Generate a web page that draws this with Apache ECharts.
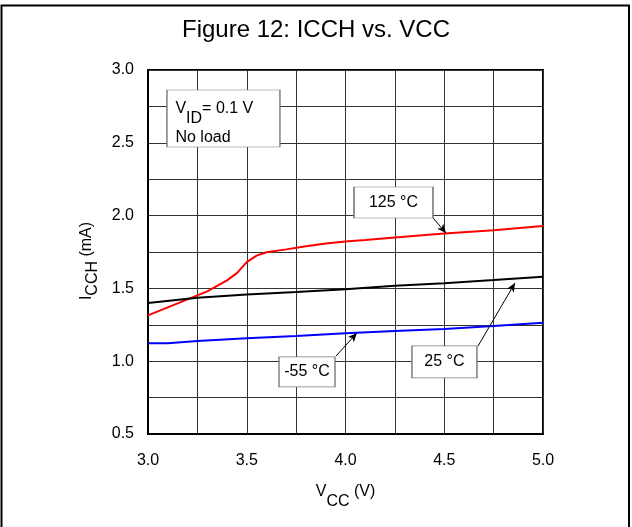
<!DOCTYPE html>
<html>
<head>
<meta charset="utf-8">
<script src="https://cdn.jsdelivr.net/npm/echarts@6/dist/echarts.min.js"></script>
<style>
  html, body { margin: 0; padding: 0; background: #fff; }
  #main { width: 632px; height: 527px; }
</style>
</head>
<body>
<div id="main"></div>
<script>
// Figure 12: ICCH vs. VCC
const FONT = 'Liberation Sans, Arial, sans-serif';

// [VCC (V), ICCH (mA)]
const icch125 = [[3.0, 1.315], [3.1, 1.37], [3.2, 1.425], [3.3, 1.48], [3.4, 1.555], [3.45, 1.605],
  [3.5, 1.68], [3.55, 1.725], [3.6, 1.748], [3.7, 1.768], [3.8, 1.79], [3.9, 1.808], [4.0, 1.822],
  [4.1, 1.832], [4.25, 1.85], [4.5, 1.877], [4.75, 1.9], [5.0, 1.928]];
const icch25 = [[3.0, 1.40], [3.25, 1.435], [3.5, 1.458], [3.75, 1.476], [4.0, 1.495],
  [4.25, 1.518], [4.5, 1.536], [4.75, 1.557], [5.0, 1.58]];
const icchM55 = [[3.0, 1.123], [3.1, 1.123], [3.25, 1.139], [3.5, 1.157], [3.75, 1.173],
  [4.0, 1.192], [4.25, 1.207], [4.5, 1.221], [4.75, 1.242], [5.0, 1.264]];

const xTicks = [3.0, 5.0, 0.5];   // min, max, step
const yTicks = [0.5, 3.0, 0.5];

// annotation boxes: text key, centre (data coords), box size
const noteBoxes = [
  { key: 'cond', coord: [3.382, 2.667], size: [113, 57] },
  { key: 't125', coord: [4.243, 2.090], size: [79, 31] },
  { key: 'tm55', coord: [3.805, 0.926], size: [56, 30] },
  { key: 't25', coord: [4.501, 0.995], size: [65, 32] }
];
// arrows: from box corner to curve
const noteArrows = [
  [[4.443, 1.984], [4.509, 1.880]],
  [[3.952, 1.036], [4.058, 1.194]],
  [[4.671, 1.104], [4.858, 1.537]]
];

const chart = echarts.init(document.getElementById('main'));

const boxLabels = {
  cond: { text: '{v|V}{s|ID}{v|= 0.1 V}\n{n|No load}', align: 'left', offset: [-48, 6] },
  t125: { text: '{n|125 °C}' },
  tm55: { text: '{n|-55 °C}' },
  t25: { text: '{n|25 °C}' }
};

const richBox = {
  v: { fontSize: 16, fontFamily: FONT, color: '#000', verticalAlign: 'top' },
  s: { fontSize: 16, fontFamily: FONT, color: '#000', verticalAlign: 'bottom', lineHeight: 26 },
  n: { fontSize: 16, fontFamily: FONT, color: '#000', lineHeight: 22 }
};

const gridLine = { show: true, lineStyle: { color: '#333', width: 1 } };

chart.setOption({
  animation: false,
  backgroundColor: '#fff',
  title: {
    text: 'Figure 12: ICCH vs. VCC',
    left: 'center',
    top: 18,
    padding: 0,
    textStyle: { fontSize: 24, fontWeight: 'normal', color: '#000', fontFamily: FONT }
  },
  graphic: [{
    type: 'rect',
    shape: { x: 1.5, y: 5.5, width: 627.5, height: 540 },
    style: { fill: 'none', stroke: '#000', lineWidth: 2 },
    silent: true
  }],
  grid: {
    left: 148, right: 89, top: 70, bottom: 93,
    show: true, borderColor: '#000', borderWidth: 2
  },
  xAxis: {
    type: 'value',
    min: xTicks[0], max: xTicks[1], interval: xTicks[2],
    name: '{a|V}{b|CC}{a| (V)}',
    nameLocation: 'middle',
    nameGap: 50,
    nameTextStyle: {
      rich: {
        a: { fontSize: 16, fontFamily: FONT, color: '#000', verticalAlign: 'top' },
        b: { fontSize: 16, fontFamily: FONT, color: '#000', verticalAlign: 'bottom', lineHeight: 26 }
      }
    },
    axisLine: { show: true, lineStyle: { color: '#000', width: 2 } },
    axisTick: { show: false },
    minorTick: { show: false, splitNumber: 2 },
    splitLine: gridLine,
    minorSplitLine: gridLine,
    axisLabel: {
      margin: 19, fontSize: 16, color: '#000', fontFamily: FONT,
      formatter: v => v.toFixed(1)
    }
  },
  yAxis: {
    type: 'value',
    min: yTicks[0], max: yTicks[1], interval: yTicks[2],
    name: '{a|I}{b|CCH}{a| (mA)}',
    nameLocation: 'middle',
    nameRotate: 90,
    nameGap: 46,
    nameTextStyle: {
      padding: [0, 18, 0, 0],
      rich: {
        a: { fontSize: 16, fontFamily: FONT, color: '#000', verticalAlign: 'top' },
        b: { fontSize: 16, fontFamily: FONT, color: '#000', verticalAlign: 'bottom', lineHeight: 22 }
      }
    },
    axisLine: { show: true, lineStyle: { color: '#000', width: 2 } },
    axisTick: { show: false },
    minorTick: { show: false, splitNumber: 2 },
    splitLine: gridLine,
    minorSplitLine: gridLine,
    axisLabel: {
      margin: 14, fontSize: 16, color: '#000', fontFamily: FONT,
      padding: [5, 0, 0, 0],
      formatter: v => v.toFixed(1)
    }
  },
  series: [
    {
      name: '125 °C', type: 'line', data: icch125, showSymbol: false,
      lineStyle: { color: '#ff0000', width: 2 }, z: 3
    },
    {
      name: '-55 °C', type: 'line', data: icchM55, showSymbol: false,
      lineStyle: { color: '#0000ff', width: 2 }, z: 3
    },
    {
      name: '25 °C', type: 'line', data: icch25, showSymbol: false,
      lineStyle: { color: '#000', width: 2 }, z: 3,
      markLine: {
        silent: true,
        symbol: ['none', 'arrow'],
        symbolSize: [6, 9],
        label: { show: false },
        lineStyle: { color: '#000', width: 1, type: 'solid' },
        data: noteArrows.map(a => [{ coord: a[0] }, { coord: a[1] }])
      },
      markPoint: {
        silent: true,
        data: noteBoxes.map(b => {
          const lb = boxLabels[b.key];
          return {
            coord: b.coord,
            symbol: 'rect',
            symbolSize: b.size,
            itemStyle: { color: '#fff', borderColor: '#777', borderWidth: 1 },
            label: {
              show: true,
              position: 'inside',
              align: lb.align || 'center',
              offset: lb.offset || [0, 0],
              formatter: lb.text,
              rich: richBox
            }
          };
        })
      }
    }
  ]
});
</script>
</body>
</html>
